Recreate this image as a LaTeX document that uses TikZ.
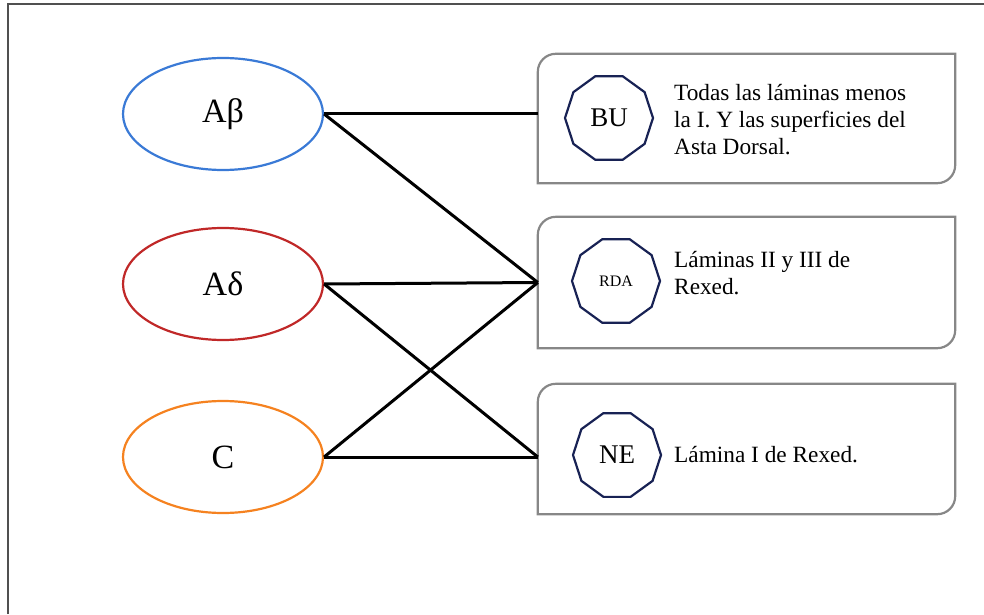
\documentclass[tikz,border=0pt]{standalone}
\usepackage{fontspec}
\setmainfont{Liberation Serif}
\usetikzlibrary{shapes.geometric,calc}
\definecolor{ablue}{RGB}{58,122,214}
\definecolor{ared}{RGB}{192,40,40}
\definecolor{aorange}{RGB}{245,130,32}
\definecolor{navy}{RGB}{24,34,84}
\definecolor{boxgray}{RGB}{135,135,135}
\definecolor{framegray}{RGB}{80,80,80}
\tikzset{
  fiber/.style={ellipse, minimum width=200pt, minimum height=112pt, line width=2.2pt, inner sep=0pt, font=\fontsize{34}{38}\selectfont},
  diagbox/.style={minimum width=417pt, inner sep=0pt, draw=none},
  boxline/.style={draw=boxgray, line width=2.2pt},
  deca/.style={regular polygon, regular polygon sides=10, minimum size=88pt, draw=navy, line width=2.2pt, inner sep=0pt},
  desc/.style={anchor=west, align=left, inner sep=0pt, font=\fontsize{23.3}{27}\selectfont},
  link/.style={line width=3pt, black}
}
\newcommand\boxoutline[1]{\draw[boxline] (#1.south west) -- ([yshift=-18pt]#1.north west) arc[start angle=180,end angle=90,radius=18pt] -- (#1.north east) -- ([yshift=18pt]#1.south east) arc[start angle=0,end angle=-90,radius=18pt] -- cycle;}
\begin{document}
\begin{tikzpicture}[x=1pt,y=1pt]
\useasboundingbox (0,0) rectangle (984,614);
% frame
\draw[framegray, line width=2pt] (8,0) -- (8,610) -- (984,610);
% ellipses
\node[fiber, draw=ablue] (ab) at (223,500) {Aβ};
\node[fiber, draw=ared] (ad) at (223,330) {Aδ};
\node[fiber, draw=aorange] (c) at (223,157) {C};
% boxes
\node[diagbox, minimum height=129pt] (b1) at (746.5,495.5) {};
\node[diagbox, minimum height=131pt] (b2) at (746.5,331.5) {};
\node[diagbox, minimum height=130pt] (b3) at (746.5,165) {};
\boxoutline{b1}
\boxoutline{b2}
\boxoutline{b3}
% decagons
\node[deca, font=\fontsize{27}{30}\selectfont] (bu) at (609,496) {BU};
\node[deca, font=\fontsize{16}{18}\selectfont] (rda) at (616,333) {RDA};
\node[deca, font=\fontsize{27}{30}\selectfont] (ne) at (617,159) {NE};
% descriptions
\node[desc] (t1) at (674,494) {Todas las láminas menos\\la I. Y las superficies del\\Asta Dorsal.};
\node[desc] (t2) at (674,340.5) {Láminas II y III de\\Rexed.};
\node[desc] (t3) at (674,159) {Lámina I de Rexed.};
% connectors
\coordinate (b1in) at (ab.east -| b1.west);
\coordinate (b3in) at (c.east -| b3.west);
\draw[link] (ab.east) -- (b1in);
\draw[link] (ab.east) -- (b2.west);
\draw[link] (ad.east) -- (b2.west);
\draw[link] (ad.east) -- (b3in);
\draw[link] (c.east) -- (b2.west);
\draw[link] (c.east) -- (b3in);
\end{tikzpicture}
\end{document}
